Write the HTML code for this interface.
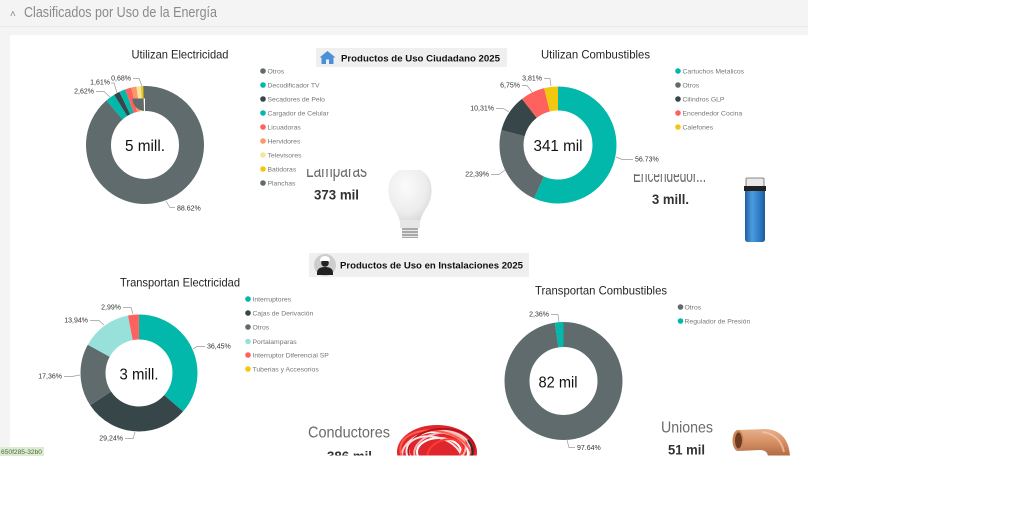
<!DOCTYPE html>
<html><head><meta charset="utf-8">
<style>
html,body{margin:0;padding:0;background:#fff;}
body{width:1024px;height:525px;overflow:hidden;}
svg{display:block;}
text{font-family:"Liberation Sans",Arial,sans-serif;}
</style></head>
<body>
<svg width="1024" height="525" viewBox="0 0 1024 525" xmlns="http://www.w3.org/2000/svg">
<defs>
  <clipPath id="panel"><rect x="10" y="35" width="1014" height="420.5"/></clipPath>
  <clipPath id="clipLamp"><rect x="300" y="169" width="80" height="30"/></clipPath>
  <clipPath id="clipEnc"><rect x="625" y="174" width="100" height="30"/></clipPath>
  <clipPath id="clipBulb"><rect x="380" y="170" width="60" height="70"/></clipPath>
  <radialGradient id="bulbG" cx="0.4" cy="0.35" r="0.7">
    <stop offset="0" stop-color="#fbfbfb"/><stop offset="0.7" stop-color="#ececec"/><stop offset="1" stop-color="#d6d6d6"/>
  </radialGradient>
  <linearGradient id="ltrG" x1="0" x2="1">
    <stop offset="0" stop-color="#1f5e9e"/><stop offset="0.35" stop-color="#4a9be0"/><stop offset="0.7" stop-color="#2f7fc8"/><stop offset="1" stop-color="#1d5a96"/>
  </linearGradient>
  <linearGradient id="cuG" x1="0" y1="0" x2="0" y2="1">
    <stop offset="0" stop-color="#e9b08c"/><stop offset="0.5" stop-color="#d48e62"/><stop offset="1" stop-color="#b06a44"/>
  </linearGradient>
</defs>

<!-- background -->
<rect x="0" y="0" width="808" height="35" fill="#f4f4f4"/>
<rect x="0" y="0" width="10" height="456" fill="#f4f4f4"/>
<line x1="0" y1="26.5" x2="808" y2="26.5" stroke="#e9e9e9" stroke-width="1"/>
<text x="10" y="17" font-size="10" fill="#888">&#x2C4;</text>
<text x="24" y="17" font-size="14.5" fill="#8a8a8a" textLength="193" lengthAdjust="spacingAndGlyphs">Clasificados por Uso de la Energía</text>

<g clip-path="url(#panel)">
<rect x="10" y="35" width="1014" height="421" fill="#fff"/>

<!-- ============ Donut 1 ============ -->
<text x="180" y="58.5" font-size="12" fill="#252525" text-anchor="middle" textLength="97" lengthAdjust="spacingAndGlyphs">Utilizan Electricidad</text>
<g fill="none" stroke-width="25" transform="rotate(-90 145 145)">
  <circle cx="145" cy="145" r="46.5" pathLength="100" stroke="#5F6B6D" stroke-dasharray="88.62 11.38" stroke-dashoffset="0"/>
  <circle cx="145" cy="145" r="46.5" pathLength="100" stroke="#01B8AA" stroke-dasharray="2.62 97.38" stroke-dashoffset="-88.62"/>
  <circle cx="145" cy="145" r="46.5" pathLength="100" stroke="#374649" stroke-dasharray="1.61 98.39" stroke-dashoffset="-91.24"/>
  <circle cx="145" cy="145" r="46.5" pathLength="100" stroke="#01B8AA" stroke-dasharray="1.7 98.3" stroke-dashoffset="-92.85"/>
  <circle cx="145" cy="145" r="46.5" pathLength="100" stroke="#FD625E" stroke-dasharray="1.7 98.3" stroke-dashoffset="-94.55"/>
  <circle cx="145" cy="145" r="46.5" pathLength="100" stroke="#FE9666" stroke-dasharray="1.4 98.6" stroke-dashoffset="-96.25"/>
  <circle cx="145" cy="145" r="46.5" pathLength="100" stroke="#F6E3A1" stroke-dasharray="1.17 98.83" stroke-dashoffset="-97.65"/>
  <circle cx="145" cy="145" r="46.5" pathLength="100" stroke="#F2C80F" stroke-dasharray="0.68 99.32" stroke-dashoffset="-98.82"/>
  <circle cx="145" cy="145" r="46.5" pathLength="100" stroke="#5F6B6D" stroke-dasharray="0.5 99.5" stroke-dashoffset="-99.5"/>
</g>
<text x="145" y="151" font-size="15.5" fill="#111" text-anchor="middle" textLength="40" lengthAdjust="spacingAndGlyphs">5 mill.</text>
<g fill="none" stroke="#9a9a9a" stroke-width="0.7">
  <polyline points="166,201 170,207.5 175,207.5"/>
  <polyline points="110,97 104,91.5 96,91.5"/>
  <polyline points="117,93 114,83 111,83"/>
  <polyline points="142,86 139,78.5 133,78.5"/>
</g>
<g font-size="7" fill="#333">
  <text x="177" y="210.5">88.62%</text>
  <text x="94" y="93.5" text-anchor="end">2,62%</text>
  <text x="110" y="84.5" text-anchor="end">1,61%</text>
  <text x="131" y="80.5" text-anchor="end">0,68%</text>
</g>
<g font-size="6.8" fill="#777">
  <circle cx="263" cy="71" r="2.8" fill="#5F6B6D"/><text x="267.5" y="73.4">Otros</text>
  <circle cx="263" cy="85" r="2.8" fill="#01B8AA"/><text x="267.5" y="87.4">Decodificador TV</text>
  <circle cx="263" cy="99" r="2.8" fill="#374649"/><text x="267.5" y="101.4">Secadores de Pelo</text>
  <circle cx="263" cy="113" r="2.8" fill="#01B8AA"/><text x="267.5" y="115.4">Cargador de Celular</text>
  <circle cx="263" cy="127" r="2.8" fill="#FD625E"/><text x="267.5" y="129.4">Licuadoras</text>
  <circle cx="263" cy="141" r="2.8" fill="#FE9666"/><text x="267.5" y="143.4">Hervidores</text>
  <circle cx="263" cy="155" r="2.8" fill="#F6E3A1"/><text x="267.5" y="157.4">Televisores</text>
  <circle cx="263" cy="169" r="2.8" fill="#F2C80F"/><text x="267.5" y="171.4">Batidoras</text>
  <circle cx="263" cy="183" r="2.8" fill="#5F6B6D"/><text x="267.5" y="185.4">Planchas</text>
</g>

<!-- Banner 1 -->
<rect x="316" y="48" width="191" height="19" fill="#efefef"/>
<polygon points="319.5,57.5 327.5,51 335.5,57.5" fill="#4b8fd8"/>
<rect x="321.5" y="57" width="12" height="7" fill="#4b8fd8"/>
<rect x="326" y="59.5" width="3" height="4.5" fill="#efefef"/>
<text x="341" y="61.5" font-size="9.5" font-weight="bold" fill="#111" textLength="159" lengthAdjust="spacingAndGlyphs">Productos de Uso Ciudadano  2025</text>

<!-- Lamparas card -->
<g clip-path="url(#clipLamp)">
  <text x="306" y="177" font-size="19" fill="#6a6a6a" textLength="61" lengthAdjust="spacingAndGlyphs">Lamparas</text>
</g>
<text x="314" y="199.5" font-size="14" font-weight="bold" fill="#333" textLength="45" lengthAdjust="spacingAndGlyphs">373 mil</text>
<!-- bulb -->
<g clip-path="url(#clipBulb)">
<path d="M392,205 C385,192 387,168 410,168 C433,168 435,192 428,205 C424,212 421,216 420,222 L400,222 C399,216 396,212 392,205 Z" fill="url(#bulbG)"/>
</g>
<rect x="400" y="220" width="20" height="8" fill="#e6e6e6"/>
<rect x="402" y="228" width="16" height="10" fill="#a9a9a9"/>
<g stroke="#e8e8e8" stroke-width="1"><line x1="402" y1="230.5" x2="418" y2="230.5"/><line x1="402" y1="233.5" x2="418" y2="233.5"/><line x1="402" y1="236.5" x2="418" y2="236.5"/></g>

<!-- ============ Donut 2 ============ -->
<text x="595.5" y="58.5" font-size="12" fill="#252525" text-anchor="middle" textLength="109" lengthAdjust="spacingAndGlyphs">Utilizan Combustibles</text>
<g fill="none" stroke-width="24" transform="rotate(-90 558 145)">
  <circle cx="558" cy="145" r="46.5" pathLength="100" stroke="#01B8AA" stroke-dasharray="56.73 43.27" stroke-dashoffset="0"/>
  <circle cx="558" cy="145" r="46.5" pathLength="100" stroke="#5F6B6D" stroke-dasharray="22.39 77.61" stroke-dashoffset="-56.73"/>
  <circle cx="558" cy="145" r="46.5" pathLength="100" stroke="#374649" stroke-dasharray="10.31 89.69" stroke-dashoffset="-79.12"/>
  <circle cx="558" cy="145" r="46.5" pathLength="100" stroke="#FD625E" stroke-dasharray="6.75 93.25" stroke-dashoffset="-89.43"/>
  <circle cx="558" cy="145" r="46.5" pathLength="100" stroke="#F2C80F" stroke-dasharray="3.82 96.18" stroke-dashoffset="-96.18"/>
</g>
<text x="558" y="151" font-size="15.5" fill="#111" text-anchor="middle" textLength="49" lengthAdjust="spacingAndGlyphs">341 mil</text>
<g fill="none" stroke="#9a9a9a" stroke-width="0.7">
  <polyline points="616,157 622,159.5 633,159.5"/>
  <polyline points="505,170 499,174.5 491,174.5"/>
  <polyline points="509,112 503,108.5 496,108.5"/>
  <polyline points="532,92 527,85.5 522,85.5"/>
  <polyline points="551,86 550,78.5 544,78.5"/>
</g>
<g font-size="7" fill="#333">
  <text x="635" y="161.5">56.73%</text>
  <text x="489" y="176.5" text-anchor="end">22,39%</text>
  <text x="494" y="110.5" text-anchor="end">10,31%</text>
  <text x="520" y="87.5" text-anchor="end">6,75%</text>
  <text x="542" y="80.5" text-anchor="end">3,81%</text>
</g>
<g font-size="6.8" fill="#777">
  <circle cx="678" cy="71" r="2.8" fill="#01B8AA"/><text x="682.5" y="73.4">Cartuchos Metalicos</text>
  <circle cx="678" cy="85" r="2.8" fill="#5F6B6D"/><text x="682.5" y="87.4">Otros</text>
  <circle cx="678" cy="99" r="2.8" fill="#374649"/><text x="682.5" y="101.4">Cilindros GLP</text>
  <circle cx="678" cy="113" r="2.8" fill="#FD625E"/><text x="682.5" y="115.4">Encendedor Cocina</text>
  <circle cx="678" cy="127" r="2.8" fill="#F2C80F"/><text x="682.5" y="129.4">Calefones</text>
</g>

<!-- Encendedor card -->
<g clip-path="url(#clipEnc)">
  <text x="633" y="182" font-size="19" fill="#6a6a6a" textLength="73" lengthAdjust="spacingAndGlyphs">Encendedor...</text>
</g>
<text x="652" y="204" font-size="14" font-weight="bold" fill="#333" textLength="37" lengthAdjust="spacingAndGlyphs">3 mill.</text>
<!-- lighter -->
<rect x="746" y="178" width="18" height="10" rx="1" fill="#e9e9e9" stroke="#666" stroke-width="0.8"/>
<rect x="744" y="186" width="22" height="5" fill="#222"/>
<path d="M745,191 L765,191 L765,239 Q765,242 762,242 L748,242 Q745,242 745,239 Z" fill="url(#ltrG)"/>

<!-- ============ Banner 2 ============ -->
<rect x="309" y="253" width="220" height="24" fill="#efefef"/>
<circle cx="325" cy="265" r="11" fill="#cdcdcd"/>
<path d="M317,273 Q317,267 325,267 Q333,267 333,273 L333,275 L317,275 Z" fill="#222"/>
<circle cx="325" cy="263" r="3.8" fill="#222"/>
<path d="M320,261 Q320,256 325,256 Q330,256 330,261 Z" fill="#fff"/>
<text x="340" y="268.5" font-size="9.5" font-weight="bold" fill="#111" textLength="183" lengthAdjust="spacingAndGlyphs">Productos de Uso en Instalaciones  2025</text>

<!-- ============ Donut 3 ============ -->
<text x="180" y="286.5" font-size="12" fill="#252525" text-anchor="middle" textLength="120" lengthAdjust="spacingAndGlyphs">Transportan Electricidad</text>
<g fill="none" stroke-width="25" transform="rotate(-90 139 373)">
  <circle cx="139" cy="373" r="46" pathLength="100" stroke="#01B8AA" stroke-dasharray="36.45 63.55" stroke-dashoffset="0"/>
  <circle cx="139" cy="373" r="46" pathLength="100" stroke="#374649" stroke-dasharray="29.24 70.76" stroke-dashoffset="-36.45"/>
  <circle cx="139" cy="373" r="46" pathLength="100" stroke="#5F6B6D" stroke-dasharray="17.36 82.64" stroke-dashoffset="-65.69"/>
  <circle cx="139" cy="373" r="46" pathLength="100" stroke="#98E1DA" stroke-dasharray="13.94 86.06" stroke-dashoffset="-83.05"/>
  <circle cx="139" cy="373" r="46" pathLength="100" stroke="#FD625E" stroke-dasharray="2.99 97.01" stroke-dashoffset="-96.99"/>
</g>
<text x="139" y="379.5" font-size="15.5" fill="#111" text-anchor="middle" textLength="39" lengthAdjust="spacingAndGlyphs">3 mill.</text>
<g fill="none" stroke="#9a9a9a" stroke-width="0.7">
  <polyline points="193,349 197,346.5 205,346.5"/>
  <polyline points="135,432 133,438.5 125,438.5"/>
  <polyline points="80,375 72,376.5 64,376.5"/>
  <polyline points="104,325 99,320.5 90,320.5"/>
  <polyline points="133,314 131,307.5 123,307.5"/>
</g>
<g font-size="7" fill="#333">
  <text x="207" y="348.5">36,45%</text>
  <text x="123" y="440.5" text-anchor="end">29,24%</text>
  <text x="62" y="378.5" text-anchor="end">17,36%</text>
  <text x="88" y="322.5" text-anchor="end">13,94%</text>
  <text x="121" y="309.5" text-anchor="end">2,99%</text>
</g>
<g font-size="6.8" fill="#777">
  <circle cx="248" cy="299" r="2.8" fill="#01B8AA"/><text x="252.5" y="301.4">Interruptores</text>
  <circle cx="248" cy="313" r="2.8" fill="#374649"/><text x="252.5" y="315.4">Cajas de Derivación</text>
  <circle cx="248" cy="327" r="2.8" fill="#5F6B6D"/><text x="252.5" y="329.4">Otros</text>
  <circle cx="248" cy="341.5" r="2.8" fill="#98E1DA"/><text x="252.5" y="343.9">Portalamparas</text>
  <circle cx="248" cy="355" r="2.8" fill="#FD625E"/><text x="252.5" y="357.4">Interruptor Diferencial SP</text>
  <circle cx="248" cy="369" r="2.8" fill="#F2C80F"/><text x="252.5" y="371.4">Tuberias y Accesorios</text>
</g>

<!-- Conductores card -->
<text x="308" y="437.5" font-size="16" fill="#6a6a6a" textLength="82" lengthAdjust="spacingAndGlyphs">Conductores</text>
<text x="327" y="461" font-size="14" font-weight="bold" fill="#333" textLength="45" lengthAdjust="spacingAndGlyphs">386 mil</text>
<!-- cables -->
<ellipse cx="437" cy="452" rx="40" ry="27" fill="#e0262d"/>
<g fill="none" stroke-width="2">
  <ellipse cx="436" cy="452" rx="34" ry="21" stroke="#f6d0ce" transform="rotate(-8 436 452)"/>
  <ellipse cx="438" cy="451" rx="30" ry="19" stroke="#ffffff" transform="rotate(6 438 451)"/>
  <ellipse cx="440" cy="450" rx="26" ry="17" stroke="#f3b8b8" transform="rotate(-12 440 450)"/>
  <ellipse cx="436" cy="453" rx="36" ry="22" stroke="#ff5a4a" transform="rotate(10 436 453)"/>
  <ellipse cx="439" cy="452" rx="22" ry="14" stroke="#ffffff"/>
  <ellipse cx="441" cy="449" rx="33" ry="20" stroke="#b8121a" transform="rotate(-4 441 449)"/>
  <ellipse cx="434" cy="455" rx="28" ry="18" stroke="#fbe4e4" transform="rotate(14 434 455)"/>
  <ellipse cx="445" cy="452" rx="18" ry="12" stroke="#ff3b2f" transform="rotate(-20 445 452)"/>
  <path d="M468,440 Q474,448 472,456" stroke="#2b2b3a"/>
</g>

<!-- ============ Donut 4 ============ -->
<text x="601" y="294.5" font-size="12" fill="#252525" text-anchor="middle" textLength="132" lengthAdjust="spacingAndGlyphs">Transportan Combustibles</text>
<g fill="none" stroke-width="25" transform="rotate(-90 563.5 381)">
  <circle cx="563.5" cy="381" r="46.5" pathLength="100" stroke="#5F6B6D" stroke-dasharray="97.64 2.36" stroke-dashoffset="0"/>
  <circle cx="563.5" cy="381" r="46.5" pathLength="100" stroke="#01B8AA" stroke-dasharray="2.36 97.64" stroke-dashoffset="-97.64"/>
</g>
<text x="558" y="387.5" font-size="15.5" fill="#111" text-anchor="middle" textLength="39" lengthAdjust="spacingAndGlyphs">82 mil</text>
<g fill="none" stroke="#9a9a9a" stroke-width="0.7">
  <polyline points="559,322 558,314.5 551,314.5"/>
  <polyline points="567,440 569,447.5 575,447.5"/>
</g>
<g font-size="7" fill="#333">
  <text x="549" y="316.5" text-anchor="end">2,36%</text>
  <text x="577" y="450">97.64%</text>
</g>
<g font-size="6.8" fill="#777">
  <circle cx="680.5" cy="307" r="2.8" fill="#5F6B6D"/><text x="684.5" y="309.4">Otros</text>
  <circle cx="680.5" cy="321" r="2.8" fill="#01B8AA"/><text x="684.5" y="323.4">Regulador de Presión</text>
</g>

<!-- Uniones card -->
<text x="661" y="432.5" font-size="16" fill="#6a6a6a" textLength="52" lengthAdjust="spacingAndGlyphs">Uniones</text>
<text x="668" y="454.5" font-size="14" font-weight="bold" fill="#333" textLength="37" lengthAdjust="spacingAndGlyphs">51 mil</text>
<!-- copper elbow -->
<path d="M738,430 L765,429 Q788,430 790,456 L768,456 Q767,450 760,450 L738,451 Z" fill="url(#cuG)"/>
<ellipse cx="738" cy="440.5" rx="5.5" ry="10.5" fill="#c98458"/>
<ellipse cx="738.5" cy="440.5" rx="3.5" ry="8" fill="#6e3a20"/>
<path d="M762,432 Q780,434 784,452" fill="none" stroke="#f3c9ad" stroke-width="2" opacity="0.7"/>
</g>

<!-- tag -->
<rect x="0" y="447" width="44" height="9" fill="#dcebd3"/>
<text x="1" y="454" font-size="6" fill="#4b6a3c" textLength="41" lengthAdjust="spacingAndGlyphs">650f285-32b0</text>
</svg>
</body></html>
